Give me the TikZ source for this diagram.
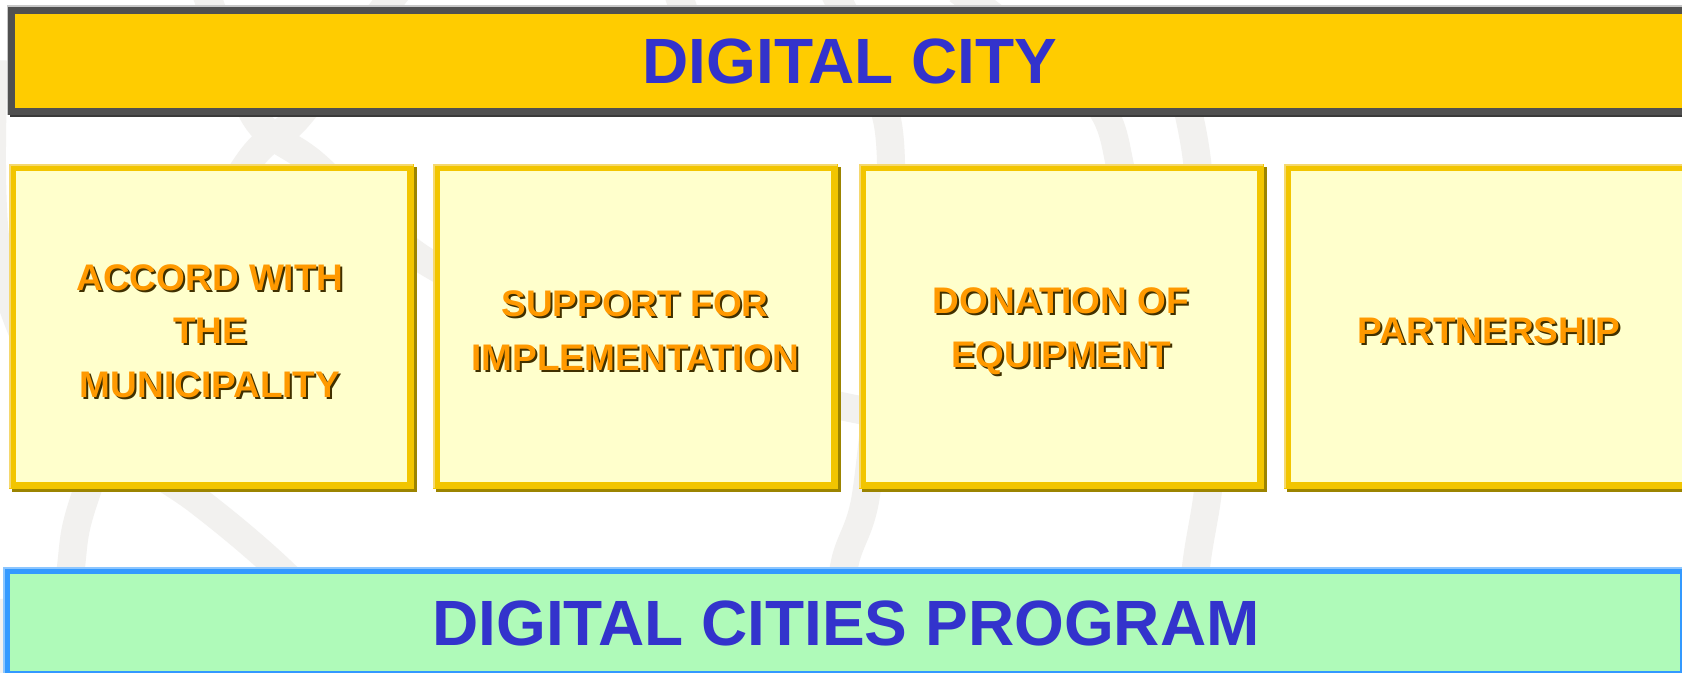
\documentclass[tikz,border=0pt]{standalone}
\usepackage{fontspec}
\setmainfont{Liberation Sans}
\usetikzlibrary{shadows}
\definecolor{bandgray}{RGB}{242,241,239}
\definecolor{barfill}{RGB}{255,204,0}
\definecolor{baredge}{RGB}{80,80,80}
\definecolor{barshade}{RGB}{58,58,58}
\definecolor{barfringe}{RGB}{200,200,200}
\definecolor{titleblue}{RGB}{51,51,204}
\definecolor{cardfill}{RGB}{255,255,204}
\definecolor{cardedge}{RGB}{242,197,0}
\definecolor{cardfringe}{RGB}{245,216,110}
\definecolor{cardshade}{RGB}{156,132,0}
\definecolor{cardtext}{RGB}{255,153,0}
\definecolor{txtshade}{RGB}{64,48,0}
\definecolor{progfill}{RGB}{175,250,185}
\definecolor{progedge}{RGB}{51,153,255}
\definecolor{progfringe}{RGB}{140,198,255}
\begin{document}
\begin{tikzpicture}[x=0.5pt,y=-0.5pt,
  bgband/.style={draw=bandgray, line width=14pt},
  barbox/.style={rectangle, line width=3.5pt, inner sep=0pt},
  citybar/.style={barbox, draw=baredge, fill=barfill,
    general shadow={draw=barshade, fill=barshade, line width=3.5pt, shadow xshift=1pt, shadow yshift=-1pt}},
  progbar/.style={barbox, draw=progedge, fill=progfill},
  cardbox/.style={barbox, draw=cardedge, fill=cardfill,
    minimum width=199pt, minimum height=159pt,
    general shadow={draw=cardshade, fill=cardshade, line width=3.5pt, shadow xshift=1.5pt, shadow yshift=-1.5pt}},
  titletxt/.style={font=\fontsize{32}{38}\selectfont\bfseries, text=titleblue, inner sep=0pt},
  cardtxt/.style={font=\fontsize{18.5}{26.75}\selectfont\bfseries, text=cardtext, align=center, inner sep=0pt},
  cardtxtshade/.style={cardtxt, text=txtshade},
  cardrim/.style={draw=cardfringe, line width=1pt},
]
\useasboundingbox (0,0) rectangle (1682,673);
\clip (0,0) rectangle (1682,673);
\fill[white] (0,0) rectangle (1682,673);

% faint background swooshes
\draw[bgband] plot[smooth] coordinates {(398,-10) (298,117) (248,163) (150,330) (84,500) (71,567) (62,690)};
\draw[bgband] plot[smooth] coordinates {(205,-10) (255,117) (313,163) (427,262) (620,350) (850,408) (1000,430)};
\draw[bgband] plot[smooth] coordinates {(-6,60) (-3,250) (60,400) (197,500) (277,567) (370,660)};
\draw[bgband] (-10,600) -- (0,700);
\draw[bgband] (677,-10) -- (700,60);
\draw[bgband] plot[smooth] coordinates {(833,-10) (888,125) (885,300) (866,495) (844,567) (832,690)};
\draw[bgband] plot[smooth] coordinates {(958,-10) (1095,100) (1124,180) (1160,280)};
\draw[bgband] plot[smooth] coordinates {(1175,40) (1186,100) (1199,180) (1212,400) (1208,490) (1196,567) (1185,690)};

% top bar
\node[citybar, minimum width=849.25pt, minimum height=50.5pt] (citybar) at (860.75,61) {};
\draw[draw=barfringe, line width=0.75pt] ([shift={(-0.75,0)}]citybar.south west) |- ([shift={(0,-0.75)}]citybar.north east);
\node[titletxt] (citytitle) at (850,61) {DIGITAL CITY};

% cards
\node[cardbox] (c1) at (211,327) {};
\node[cardbox] (c2) at (635,327) {};
\node[cardbox] (c3) at (1061,327) {};
\node[cardbox] (c4) at (1486,327) {};
\foreach \c in {c1,c2,c3,c4}{
  \draw[cardrim] ([shift={(1,-1)}]\c.south west) |- ([shift={(-1,1)}]\c.north east);
}

\node[cardtxtshade] (t1s) at (212,333) {ACCORD WITH\\THE\\MUNICIPALITY};
\node[cardtxt] (t1) at (210,331) {ACCORD WITH\\THE\\MUNICIPALITY};
\node[cardtxtshade] (t2s) at (637,333) {SUPPORT FOR\\IMPLEMENTATION};
\node[cardtxt] (t2) at (635,331) {SUPPORT FOR\\IMPLEMENTATION};
\node[cardtxtshade] (t3s) at (1063,333) {DONATION OF\\EQUIPMENT};
\node[cardtxt] (t3) at (1061,331) {DONATION OF\\EQUIPMENT};
\node[cardtxtshade] (t4s) at (1491,333) {PARTNERSHIP};
\node[cardtxt] (t4) at (1489,331) {PARTNERSHIP};

% bottom bar
\node[progbar, minimum width=838.5pt, minimum height=52pt] (progbar) at (845,622.5) {};
\draw[draw=progfringe, line width=1pt] ([shift={(1,-1)}]progbar.south west) |- ([shift={(-1,1)}]progbar.north east);
\node[titletxt] (progtitle) at (846,623.5) {DIGITAL CITIES PROGRAM};
\end{tikzpicture}
\end{document}
